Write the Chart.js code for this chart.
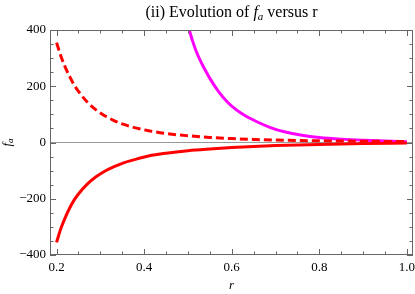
<!DOCTYPE html>
<html lang="en">
<head>
  <meta charset="UTF-8">
  <title>Evolution of fa versus r</title>
  <script src="https://cdn.jsdelivr.net/npm/chart.js"></script>
  <style>
    body { margin: 0; background: #fff; }
  </style>
</head>
<body>
  <canvas id="faChart" width="415" height="294"></canvas>
  <script>
    // values
    const rRed = [0.2, 0.21, 0.22, 0.23, 0.24, 0.25, 0.27, 0.29, 0.31, 0.33, 0.35, 0.38, 0.41, 0.45, 0.5, 0.55, 0.6, 0.65, 0.7, 0.8, 0.9, 1.0];
    const faSolid = [-355, -305, -266, -233, -205, -183, -148, -122, -102, -87, -74, -60, -48, -38, -29, -23, -18, -14, -11, -7, -4, -2];
    const faDashed = [355, 307, 267, 234, 205, 182, 144, 116, 95, 79, 66, 52, 42, 32, 24, 18, 14, 11, 8.5, 6, 4.5, 3.5];
    const rMagenta = [0.5, 0.51, 0.52, 0.53, 0.54, 0.55, 0.57, 0.59, 0.61, 0.63, 0.66, 0.69, 0.72, 0.76, 0.8, 0.85, 0.9, 0.95, 1.0];
    const faMagenta = [416, 364, 320, 286, 256, 228, 181, 144, 117, 96, 72, 52, 38, 26, 18, 12, 8, 5, 3];
    const xTicks = [0.2, 0.4, 0.6, 0.8, 1.0];
    const yTicks = [-400, -200, 0, 200, 400];

    const serif = "'Liberation Serif', 'Times New Roman', serif";
    const pts = (xs, ys) => xs.map((v, i) => ({ x: v, y: ys[i] }));

    function drawRich(ctx, parts, cx, cy) {
      let w = 0;
      parts.forEach(p => { ctx.font = p.font; w += ctx.measureText(p.t).width; });
      let px = cx - w / 2;
      ctx.textBaseline = 'middle';
      ctx.textAlign = 'left';
      parts.forEach(p => {
        ctx.font = p.font;
        ctx.fillText(p.t, px, cy + (p.dy || 0));
        px += ctx.measureText(p.t).width;
      });
    }

    const framePlugin = {
      id: 'frame',
      afterDraw(chart) {
        const { ctx, chartArea: a, scales: { x, y } } = chart;
        ctx.save();
        ctx.strokeStyle = '#666';
        ctx.lineWidth = 1;
        ctx.strokeRect(a.left + 0.5, a.top + 0.5, a.right - a.left - 1, a.bottom - a.top - 1);
        ctx.beginPath();
        for (let i = 0; i <= 16; i++) {
          const px = Math.round(x.getPixelForValue(0.2 + i * 0.05)) + 0.5;
          const len = i % 4 === 0 ? 6 : 3.5;
          ctx.moveTo(px, a.bottom); ctx.lineTo(px, a.bottom - len);
          ctx.moveTo(px, a.top); ctx.lineTo(px, a.top + len);
        }
        for (let v = -400; v <= 400; v += 50) {
          const py = Math.round(y.getPixelForValue(v)) + 0.5;
          const len = v % 200 === 0 ? 6 : 3.5;
          ctx.moveTo(a.left, py); ctx.lineTo(a.left + len, py);
          ctx.moveTo(a.right, py); ctx.lineTo(a.right - len, py);
        }
        ctx.stroke();

        ctx.fillStyle = '#000';
        const cx = (a.left + a.right) / 2;
        drawRich(ctx, [
          { t: '(ii) Evolution of ', font: '16px ' + serif },
          { t: 'f', font: 'italic 16px ' + serif },
          { t: 'a', font: 'italic 11px ' + serif, dy: 4 },
          { t: ' versus r', font: '16px ' + serif }
        ], cx, 13);
        drawRich(ctx, [{ t: 'r', font: 'italic 13px ' + serif }], cx, 286);

        ctx.translate(8, (a.top + a.bottom) / 2);
        ctx.rotate(-Math.PI / 2);
        drawRich(ctx, [
          { t: 'f', font: 'italic 13px ' + serif },
          { t: 'a', font: 'italic 9px ' + serif, dy: 3 }
        ], 0, 0);
        ctx.restore();
      }
    };

    const ctx = document.getElementById('faChart').getContext('2d');
    const faChart = new Chart(ctx, {
      type: 'line',
      data: {
        datasets: [{
          label: 'solid',
          data: pts(rRed, faSolid),
          borderColor: '#ff0000',
          borderWidth: 3
        }, {
          label: 'dashed',
          data: pts(rRed, faDashed),
          borderColor: '#ff0000',
          borderWidth: 3,
          borderDash: [8, 4]
        }, {
          label: 'magenta',
          data: pts(rMagenta, faMagenta),
          borderColor: '#ff00ff',
          borderWidth: 3
        }]
      },
      options: {
        responsive: false,
        animation: false,
        events: [],
        layout: { padding: { top: 30, right: 2, left: 0, bottom: 0 } },
        elements: {
          point: { radius: 0 },
          line: { cubicInterpolationMode: 'monotone', fill: false }
        },
        plugins: {
          legend: { display: false },
          title: { display: false },
          tooltip: { enabled: false }
        },
        scales: {
          x: {
            type: 'linear',
            min: 0.185,
            max: 1.014,
            afterBuildTicks: s => { s.ticks = xTicks.map(v => ({ value: v })); },
            afterFit: s => { s.height = 39; s.paddingLeft = 0; s.paddingRight = 0; },
            grid: { display: false, drawTicks: false },
            border: { display: false },
            ticks: {
              padding: 5,
              color: '#000',
              font: { family: serif, size: 13 },
              callback: v => v.toFixed(1)
            }
          },
          y: {
            min: -400,
            max: 400,
            afterBuildTicks: s => { s.ticks = yTicks.map(v => ({ value: v })); },
            afterFit: s => { s.width = 50; s.paddingTop = 0; s.paddingBottom = 0; },
            grid: {
              drawTicks: false,
              color: c => c.tick && c.tick.value === 0 ? '#999' : 'rgba(0,0,0,0)'
            },
            border: { display: false },
            ticks: {
              padding: 4,
              color: '#000',
              font: { family: serif, size: 13 },
              callback: v => v < 0 ? '\u2212' + Math.abs(v) : String(v)
            }
          }
        }
      },
      plugins: [framePlugin]
    });
  </script>
</body>
</html>
